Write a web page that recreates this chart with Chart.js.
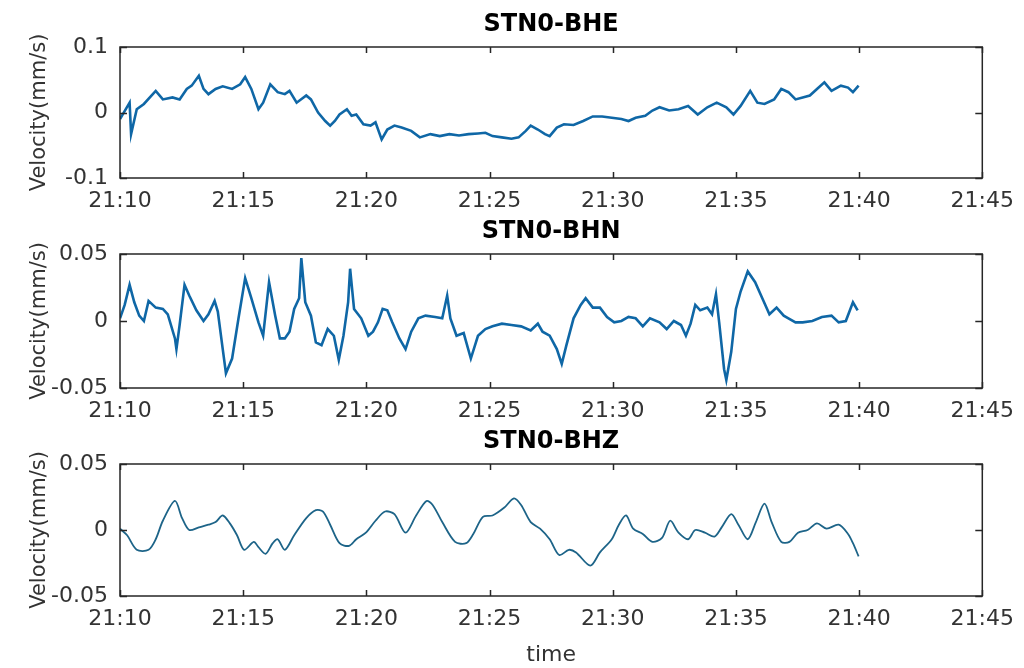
<!DOCTYPE html>
<html lang="en">
<head>
<meta charset="UTF-8">
<title>STN0 velocity records</title>
<style>
  body{margin:0;background:#fff;width:1024px;height:668px;overflow:hidden;position:relative;}
  .panel{position:absolute;left:0;width:1024px;}
  canvas{display:block;}
</style>
</head>
<body>
<div class="panel" style="top:0"><canvas id="bhe" width="1024" height="222"></canvas></div>
<div class="panel" style="top:207px"><canvas id="bhn" width="1024" height="225"></canvas></div>
<div class="panel" style="top:417px"><canvas id="bhz" width="1024" height="251"></canvas></div>

<script src="https://cdn.jsdelivr.net/npm/chart.js@4.4.1"></script>
<script>
/* ---------- axis ticks (x = minutes after 21:10) ---------- */
const xTickVals   = [0, 5, 10, 15, 20, 25, 30, 35];
const xTickLabels = ['21:10','21:15','21:20','21:25','21:30','21:35','21:40','21:45'];
const yTicksBHE   = [-0.1, 0, 0.1];
const yLabelsBHE  = ['-0.1', '0', '0.1'];
const yTicksSmall = [-0.05, 0, 0.05];
const yLabelsSmall = ['-0.05', '0', '0.05'];

/* ---------- STN0-BHE ---------- */
const tBHE = [0.00,0.39,0.45,0.68,0.97,1.45,1.74,2.13,2.42,2.71,2.91,3.20,3.39,3.59,3.88,4.17,4.55,4.88,5.08,5.33,
  5.62,5.81,6.10,6.40,6.69,6.88,7.17,7.56,7.75,8.04,8.33,8.53,8.72,8.91,9.21,9.40,9.59,9.88,10.17,10.37,
  10.62,10.85,11.14,11.43,11.82,12.17,12.60,12.98,13.37,13.76,14.15,14.53,14.83,15.12,15.50,15.89,16.18,16.47,16.67,16.96,
  17.25,17.44,17.73,18.02,18.41,18.80,19.19,19.57,19.96,20.35,20.64,20.93,21.32,21.61,21.90,22.29,22.67,23.06,23.45,23.84,
  24.22,24.61,24.90,25.19,25.58,25.87,26.16,26.55,26.84,27.13,27.42,27.71,28.00,28.29,28.59,28.88,29.26,29.55,29.75,29.98];
const vBHE = [-0.010,0.015,-0.033,0.005,0.013,0.033,0.020,0.023,0.020,0.036,0.041,0.056,0.036,0.028,0.036,0.040,0.036,0.043,0.054,0.036,
  0.005,0.015,0.043,0.031,0.028,0.033,0.015,0.026,0.020,0.000,-0.013,-0.020,-0.013,-0.003,0.005,-0.005,-0.003,-0.018,-0.020,-0.015,
  -0.041,-0.026,-0.020,-0.023,-0.028,-0.038,-0.033,-0.036,-0.033,-0.035,-0.033,-0.032,-0.031,-0.036,-0.038,-0.040,-0.038,-0.028,-0.020,-0.026,
  -0.033,-0.036,-0.023,-0.018,-0.019,-0.013,-0.006,-0.006,-0.008,-0.010,-0.013,-0.008,-0.005,0.003,0.008,0.003,0.005,0.010,-0.003,0.008,
  0.015,0.008,-0.003,0.010,0.033,0.015,0.013,0.020,0.036,0.031,0.020,0.023,0.026,0.036,0.046,0.033,0.041,0.038,0.031,0.041];

/* ---------- STN0-BHN ---------- */
const tBHN = [0.00,0.19,0.39,0.58,0.78,0.97,1.16,1.45,1.74,1.94,
  2.23,2.29,2.42,2.62,2.81,3.10,3.39,3.59,3.84,3.97,
  4.17,4.30,4.55,4.81,5.08,5.33,5.62,5.81,6.05,6.30,
  6.49,6.69,6.88,7.07,7.27,7.36,7.52,7.75,7.95,8.18,
  8.43,8.68,8.88,9.07,9.26,9.34,9.50,9.79,10.08,10.27,
  10.47,10.66,10.85,11.05,11.34,11.59,11.82,12.11,12.40,12.79,
  13.08,13.28,13.41,13.66,13.95,14.24,14.53,14.83,15.12,15.50,
  15.89,16.28,16.67,16.96,17.15,17.44,17.73,17.93,18.12,18.41,
  18.70,18.90,19.19,19.48,19.77,20.06,20.35,20.64,20.93,21.22,
  21.51,21.90,22.19,22.48,22.77,22.97,23.16,23.35,23.55,23.84,
  24.03,24.19,24.32,24.52,24.61,24.81,25.00,25.19,25.48,25.78,
  26.07,26.36,26.65,26.94,27.13,27.42,27.71,28.10,28.49,28.88,
  29.17,29.46,29.75,29.94];
const vBHN = [0.002,0.012,0.027,0.014,0.004,0.000,0.015,0.010,0.009,0.005,
  -0.013,-0.021,-0.003,0.027,0.019,0.008,0.000,0.005,0.015,0.007,
  -0.021,-0.039,-0.028,0.002,0.032,0.017,-0.001,-0.011,0.029,0.004,
  -0.013,-0.013,-0.008,0.009,0.017,0.047,0.014,0.004,-0.016,-0.018,
  -0.006,-0.011,-0.029,-0.011,0.014,0.039,0.009,0.002,-0.011,-0.008,
  -0.001,0.009,0.008,-0.001,-0.013,-0.021,-0.008,0.002,0.004,0.003,
  0.002,0.019,0.002,-0.011,-0.009,-0.028,-0.011,-0.006,-0.004,-0.002,
  -0.003,-0.004,-0.007,-0.002,-0.008,-0.011,-0.021,-0.032,-0.018,0.002,
  0.012,0.017,0.010,0.010,0.003,-0.001,0.000,0.003,0.002,-0.004,
  0.002,-0.001,-0.006,0.000,-0.003,-0.011,-0.002,0.012,0.008,0.010,
  0.005,0.020,-0.001,-0.036,-0.044,-0.023,0.009,0.022,0.037,0.029,
  0.017,0.005,0.010,0.004,0.002,-0.001,-0.001,0.000,0.003,0.004,
  -0.001,0.000,0.014,0.008];

/* ---------- STN0-BHZ ---------- */
const tBHZ = [0.00,0.29,0.68,1.16,1.45,1.74,2.23,2.52,2.81,3.20,
  3.59,3.88,4.17,4.46,4.75,5.04,5.43,5.62,5.91,6.20,
  6.40,6.69,7.07,7.56,7.95,8.24,8.53,8.91,9.30,9.59,
  9.98,10.37,10.76,11.14,11.59,12.02,12.44,12.69,13.08,13.60,
  14.05,14.34,14.73,15.12,15.60,15.99,16.28,16.67,17.05,17.44,
  17.83,18.22,18.51,19.09,19.48,19.96,20.25,20.54,20.83,21.22,
  21.61,22.00,22.33,22.67,23.06,23.35,23.74,24.13,24.42,24.81,
  25.10,25.48,25.81,26.16,26.45,26.84,27.17,27.52,27.91,28.29,
  28.68,29.17,29.55,29.75,29.98];
const vBHZ = [0.001,-0.004,-0.015,-0.015,-0.007,0.007,0.022,0.009,0.000,0.002,
  0.004,0.006,0.011,0.005,-0.004,-0.015,-0.009,-0.013,-0.018,-0.010,
  -0.007,-0.015,-0.004,0.009,0.015,0.014,0.004,-0.010,-0.012,-0.007,
  -0.002,0.007,0.014,0.012,-0.002,0.011,0.022,0.019,0.006,-0.009,
  -0.010,-0.003,0.010,0.011,0.017,0.024,0.019,0.006,0.001,-0.007,
  -0.019,-0.015,-0.017,-0.027,-0.017,-0.007,0.004,0.011,0.001,-0.003,
  -0.009,-0.006,0.007,-0.002,-0.007,0.000,-0.002,-0.005,0.002,0.012,
  0.004,-0.007,0.006,0.020,0.006,-0.009,-0.009,-0.002,0.000,0.005,
  0.001,0.004,-0.003,-0.010,-0.020];

Chart.defaults.font.family = "'DejaVu Sans', sans-serif";
Chart.defaults.color = '#262626';

/* matlab-ish box with inward ticks on all four sides */
const boxPlugin = {
  id: 'matlabBox',
  afterDatasetsDraw(chart){
    const {ctx, chartArea:a, scales:{x, y}} = chart;
    ctx.save();
    ctx.strokeStyle = '#262626';
    ctx.lineWidth = 1.5;
    ctx.strokeRect(a.left, a.top, a.right - a.left, a.bottom - a.top);
    ctx.beginPath();
    x.ticks.forEach(t => {
      const px = Math.round(x.getPixelForValue(t.value)) + 0.5;
      ctx.moveTo(px, a.bottom); ctx.lineTo(px, a.bottom - 6);
      ctx.moveTo(px, a.top);    ctx.lineTo(px, a.top + 6);
    });
    y.ticks.forEach(t => {
      const py = Math.round(y.getPixelForValue(t.value)) + 0.5;
      ctx.moveTo(a.left, py);  ctx.lineTo(a.left + 7, py);
      ctx.moveTo(a.right, py); ctx.lineTo(a.right - 7, py);
    });
    ctx.stroke();
    ctx.restore();
  }
};

function makePanel(id, title, t, v, yTicks, yLabels, opts){
  new Chart(document.getElementById(id), {
    type: 'line',
    data: {
      datasets: [{
        data: t.map((x, i) => ({x: x, y: v[i]})),
        borderColor: opts.color,
        borderWidth: opts.width,
        borderJoinStyle: 'miter',
        pointRadius: 0,
        tension: opts.tension,
        fill: false
      }]
    },
    options: {
      responsive: false,
      animation: false,
      events: [],
      layout: {padding: {left: 0, right: 37, top: 0, bottom: 0}},
      plugins: {
        legend: {display: false},
        tooltip: {enabled: false},
        title: {
          display: true, text: title, color: '#000', fullSize: false,
          font: {size: 24, weight: 'bold'},
          padding: {top: 10, bottom: 8.2}
        }
      },
      scales: {
        x: {
          type: 'linear', min: 0, max: 35,
          afterBuildTicks: s => { s.ticks = xTickVals.map(val => ({value: val})); },
          afterFit: s => { s.height = opts.xHeight; },
          grid: {display: false, drawTicks: false},
          border: {display: false},
          ticks: {padding: 10, maxRotation: 0, autoSkip: false, color: '#333',
                  font: {size: 22}, callback: (val, i) => xTickLabels[i]},
          title: {display: !!opts.xTitle, text: opts.xTitle || '', color: '#333',
                  font: {size: 22}, padding: {top: 0, bottom: 0}}
        },
        y: {
          min: yTicks[0], max: yTicks[yTicks.length - 1],
          afterBuildTicks: s => { s.ticks = yTicks.map(val => ({value: val})); },
          afterFit: s => { s.width = 120; },
          grid: {display: false, drawTicks: false},
          border: {display: false},
          ticks: {padding: 12, color: '#333', font: {size: 22},
                  callback: (val, i) => yLabels[i]},
          title: {display: true, text: 'Velocity(mm/s)', color: '#333',
                  font: {size: 21}, padding: {top: 27, bottom: 0}}
        }
      }
    },
    plugins: [boxPlugin]
  });
}

makePanel('bhe', 'STN0-BHE', tBHE, vBHE, yTicksBHE, yLabelsBHE,
          {color: '#0f67a6', width: 2.6, tension: 0, xHeight: 44});
makePanel('bhn', 'STN0-BHN', tBHN, vBHN, yTicksSmall, yLabelsSmall,
          {color: '#0f67a6', width: 2.6, tension: 0, xHeight: 44});
makePanel('bhz', 'STN0-BHZ', tBHZ, vBHZ, yTicksSmall, yLabelsSmall,
          {color: '#1d6488', width: 1.8, tension: 0.3, xHeight: 72, xTitle: 'time'});
</script>
</body>
</html>
